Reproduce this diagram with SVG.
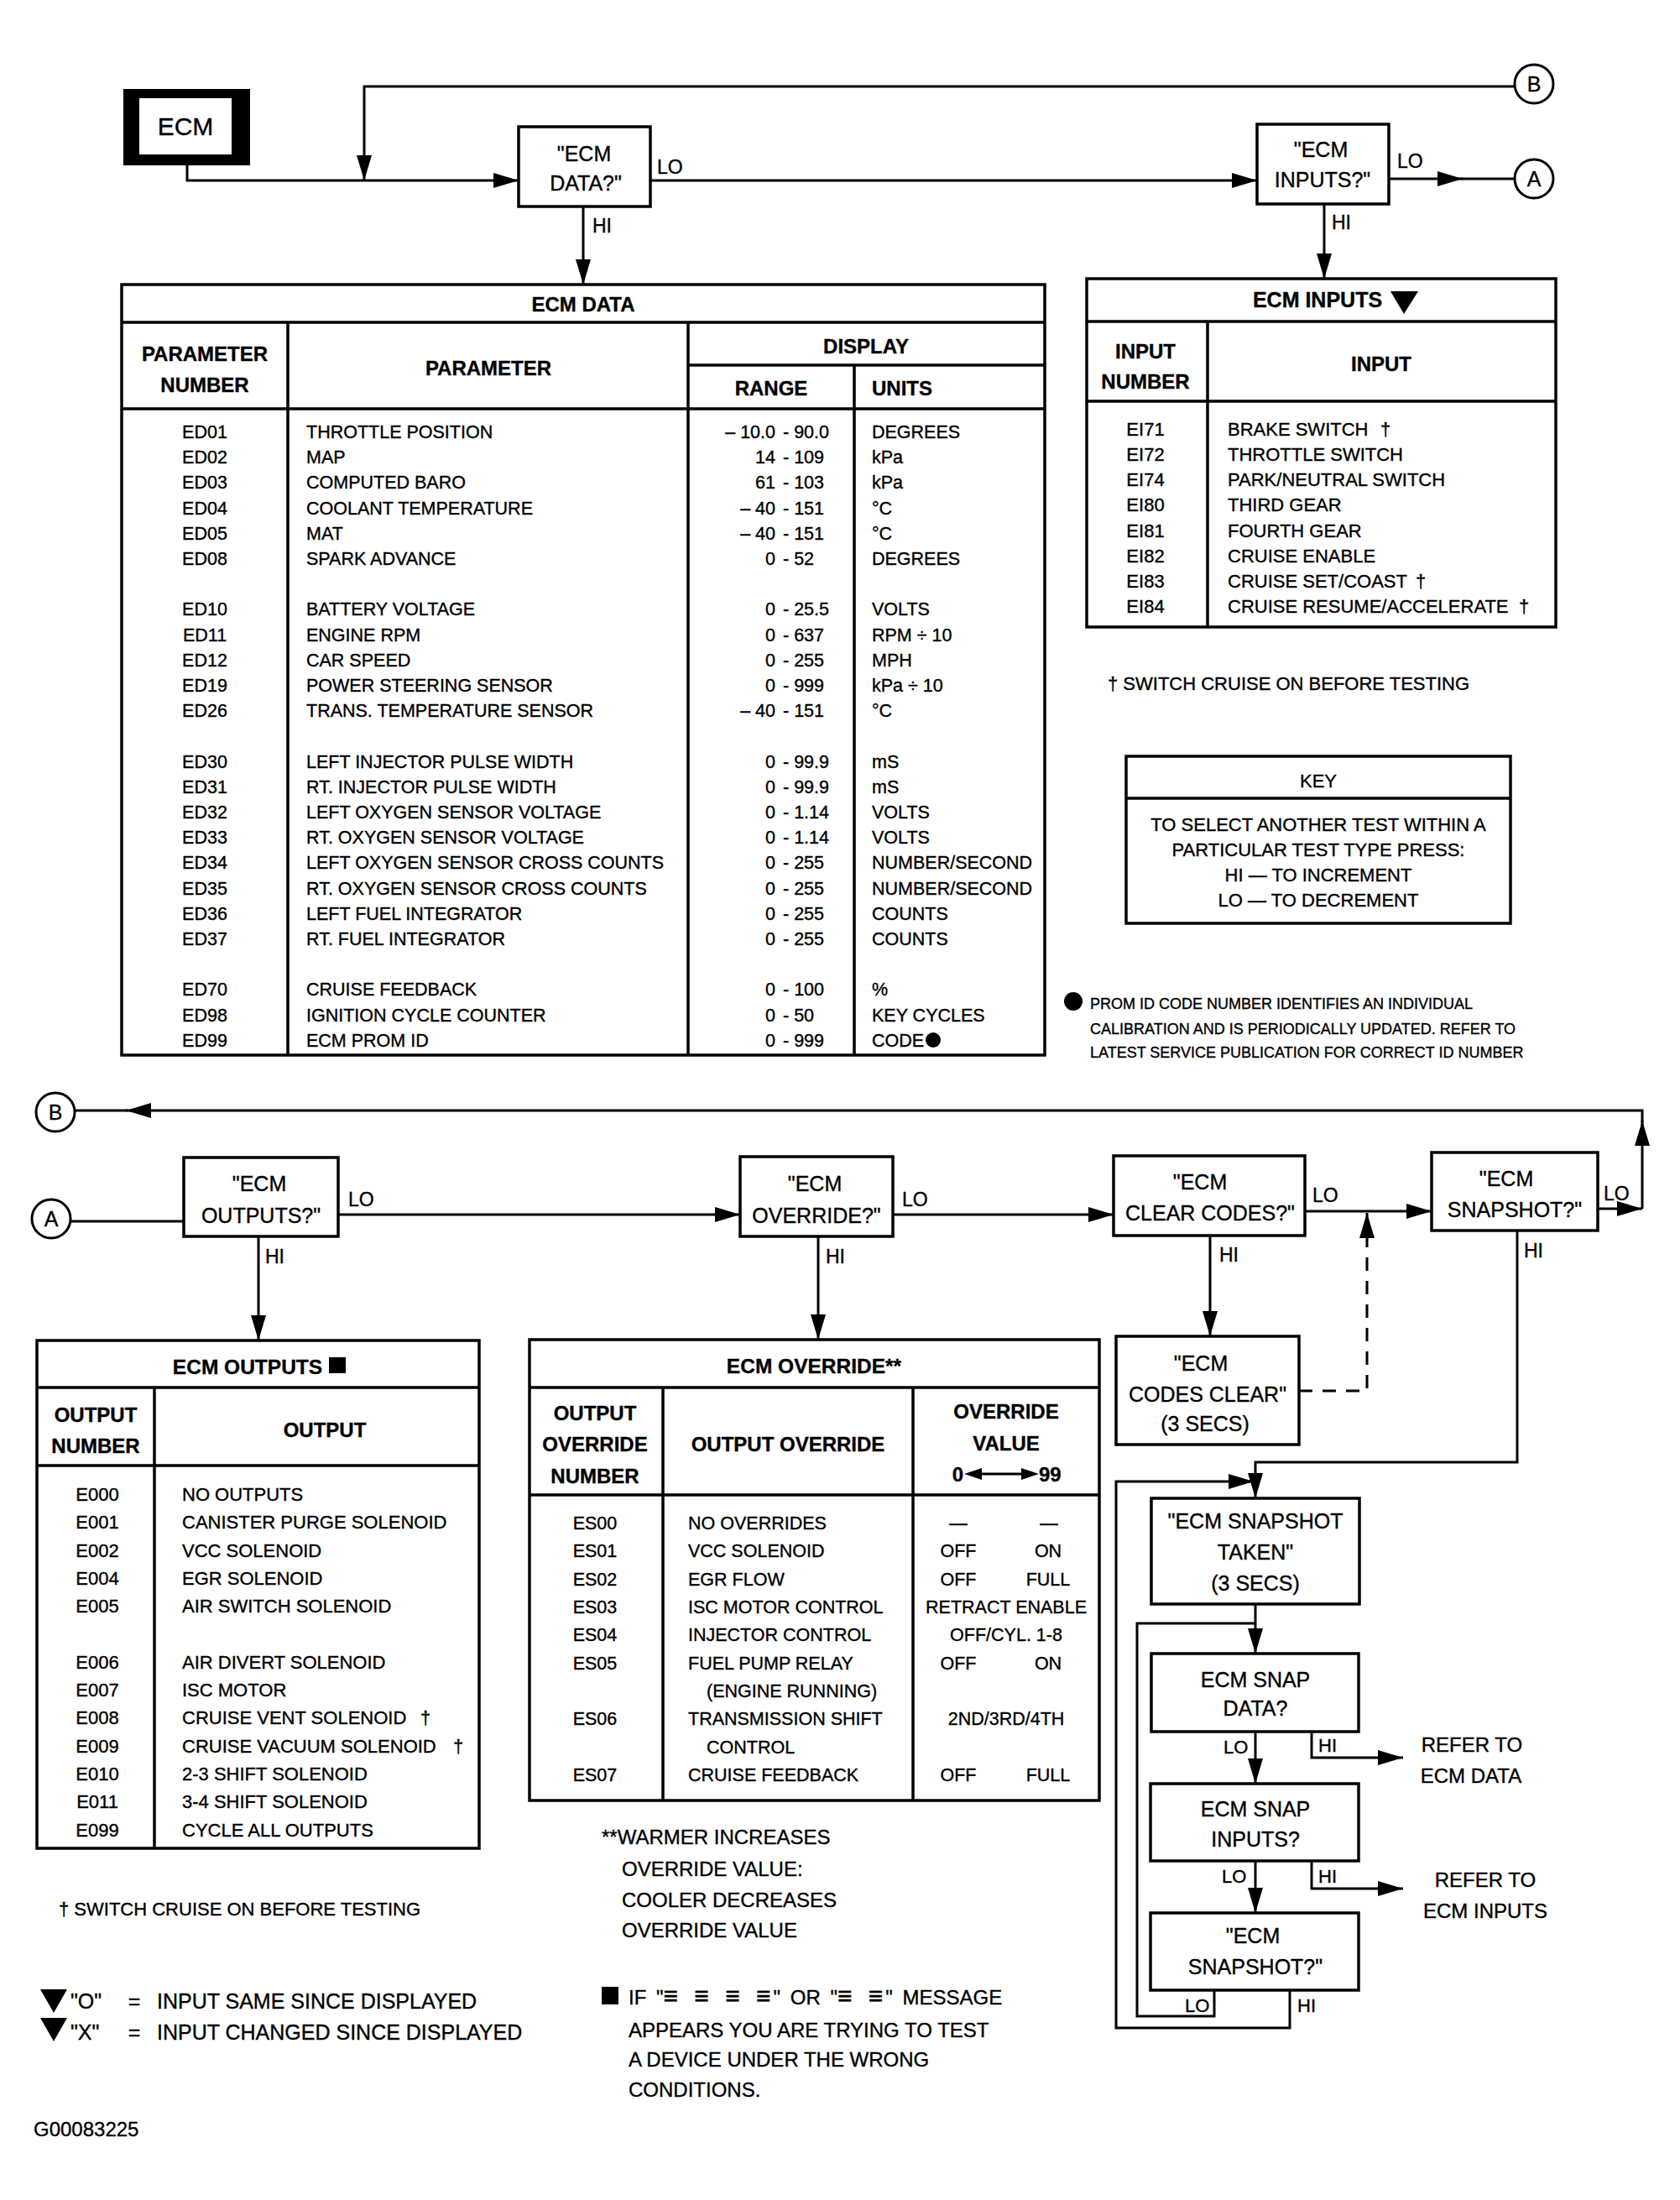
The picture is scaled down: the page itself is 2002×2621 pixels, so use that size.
<svg xmlns="http://www.w3.org/2000/svg" width="2002" height="2621" viewBox="0 0 2002 2621">
<style>
text{font-family:"Liberation Sans",Arial,Helvetica,sans-serif;fill:#000;stroke:#000;stroke-width:0.35}
.c{text-anchor:middle}
.e{text-anchor:end}
.bd{font-weight:bold}
.f25{font-size:25px}
.f24{font-size:24px}
.f22{font-size:22px}
.f21{font-size:21.5px}
.f18{font-size:18px}
.lab{font-size:23px}
.eq{font-size:30px;letter-spacing:3px}
.ln{fill:none;stroke:#000;stroke-width:3}
.dash{fill:none;stroke:#000;stroke-width:3;stroke-dasharray:16 12}
.bx{fill:#fff;stroke:#000;stroke-width:3.5}
.tb{fill:none;stroke:#000;stroke-width:3.5}
.cir{fill:#fff;stroke:#000;stroke-width:3}
</style>
<defs>
<marker id="ah" markerWidth="30" markerHeight="18" refX="30" refY="9" orient="auto" markerUnits="userSpaceOnUse" viewBox="0 0 30 18"><path d="M0,0 L30,9 L0,18 Z" fill="#000"/></marker>
</defs>
<rect width="2002" height="2621" fill="#fff"/>

<g id="connectors">
<path class="ln" d="M223,197 V215 H618" marker-end="url(#ah)"/>
<path class="ln" d="M1805,103 H434 V215" marker-end="url(#ah)"/>
<path class="ln" d="M775,215 H1498" marker-end="url(#ah)"/>
<path class="ln" d="M695,246 V339" marker-end="url(#ah)"/>
<path class="ln" d="M1655,213 H1743" marker-end="url(#ah)"/>
<path class="ln" d="M1741,213 H1805"/>
<path class="ln" d="M1578,243 V332" marker-end="url(#ah)"/>
<path class="ln" d="M1904,1440 H1957" marker-end="url(#ah)"/>
<path class="ln" d="M1957,1440 V1335" marker-end="url(#ah)"/>
<path class="ln" d="M1957,1337 V1323 H150" marker-end="url(#ah)"/>
<path class="ln" d="M152,1323 H89"/>
<path class="ln" d="M85,1455 H219"/>
<path class="ln" d="M403,1447 H882" marker-end="url(#ah)"/>
<path class="ln" d="M308,1473 V1597" marker-end="url(#ah)"/>
<path class="ln" d="M1064,1447 H1327" marker-end="url(#ah)"/>
<path class="ln" d="M975,1473 V1596" marker-end="url(#ah)"/>
<path class="ln" d="M1555,1443 H1706" marker-end="url(#ah)"/>
<path class="ln" d="M1442,1472 V1592" marker-end="url(#ah)"/>
<path class="dash" d="M1548,1657 H1629 V1445" marker-end="url(#ah)"/>
<path class="ln" d="M1808,1466 V1742 H1496 V1785" marker-end="url(#ah)"/>
<path class="ln" d="M1537,2371 V2416 H1330 V1765 H1494" marker-end="url(#ah)"/>
<path class="ln" d="M1496,1911 V1970" marker-end="url(#ah)"/>
<path class="ln" d="M1447,2371 V2402 H1355 V1934 H1496"/>
<path class="ln" d="M1496,2063 V2125" marker-end="url(#ah)"/>
<path class="ln" d="M1563,2063 V2094 H1672" marker-end="url(#ah)"/>
<path class="ln" d="M1496,2217 V2279" marker-end="url(#ah)"/>
<path class="ln" d="M1563,2217 V2250 H1672" marker-end="url(#ah)"/>
<text class="lab" x="783" y="207">LO</text>
<text class="lab" x="706" y="277">HI</text>
<text class="lab" x="1665" y="200">LO</text>
<text class="lab" x="1587" y="273">HI</text>
<text class="lab" x="415" y="1437">LO</text>
<text class="lab" x="316" y="1505">HI</text>
<text class="lab" x="1075" y="1437">LO</text>
<text class="lab" x="984" y="1505">HI</text>
<text class="lab" x="1564" y="1432">LO</text>
<text class="lab" x="1453" y="1503">HI</text>
<text class="lab" x="1911" y="1430">LO</text>
<text class="lab" x="1816" y="1498">HI</text>
<text class="f22" x="1458" y="2089">LO</text>
<text class="f22" x="1571" y="2087">HI</text>
<text class="f22" x="1456" y="2243">LO</text>
<text class="f22" x="1571" y="2243">HI</text>
<text class="f22" x="1412" y="2397">LO</text>
<text class="f22" x="1546" y="2397">HI</text>
</g>

<g id="ecm">
<rect x="147" y="106" width="151" height="91" fill="#000"/>
<rect x="166" y="117" width="110" height="67" fill="#fff"/>
<text class="c" x="221" y="161" font-size="30">ECM</text>
</g>

<g id="connB-top">
<circle class="cir" cx="1828" cy="100" r="23"/>
<text class="c f25" x="1828" y="109">B</text>
</g>
<g id="connA-top">
<circle class="cir" cx="1828" cy="213" r="23"/>
<text class="c f25" x="1828" y="222">A</text>
</g>

<g id="q-ecm-data">
<rect class="bx" x="618" y="151" width="157" height="95"/>
<text class="c f25" x="696" y="192">"ECM</text>
<text class="c f25" x="698" y="227">DATA?"</text>
</g>

<g id="q-ecm-inputs">
<rect class="bx" x="1498" y="148" width="157" height="95"/>
<text class="c f25" x="1574" y="187">"ECM</text>
<text class="c f25" x="1576" y="223">INPUTS?"</text>
</g>

<g id="tbl-ecm-data">
<rect class="tb" x="145" y="339" width="1100" height="918"/>
<path class="tb" d="M145,384 H1245 M145,487 H1245 M343,384 V1257 M820,384 V1257 M1018,435 V1257 M820,435 H1245"/>
<text class="c bd f24" x="695" y="371">ECM DATA</text>
<text class="c bd f24" x="244" y="430">PARAMETER</text>
<text class="c bd f24" x="244" y="467">NUMBER</text>
<text class="c bd f24" x="582" y="447">PARAMETER</text>
<text class="c bd f24" x="1032" y="421">DISPLAY</text>
<text class="c bd f24" x="919" y="471">RANGE</text>
<text class="bd f24" x="1039" y="471">UNITS</text>
<g class="f21">
<text class="c" x="244" y="522">ED01</text><text x="365" y="522">THROTTLE POSITION</text><text class="e" x="924" y="522">– 10.0</text><text x="933" y="522">- 90.0</text><text x="1039" y="522">DEGREES</text>
<text class="c" x="244" y="552">ED02</text><text x="365" y="552">MAP</text><text class="e" x="924" y="552">14</text><text x="933" y="552">- 109</text><text x="1039" y="552">kPa</text>
<text class="c" x="244" y="582">ED03</text><text x="365" y="582">COMPUTED BARO</text><text class="e" x="924" y="582">61</text><text x="933" y="582">- 103</text><text x="1039" y="582">kPa</text>
<text class="c" x="244" y="613">ED04</text><text x="365" y="613">COOLANT TEMPERATURE</text><text class="e" x="924" y="613">– 40</text><text x="933" y="613">- 151</text><text x="1039" y="613">°C</text>
<text class="c" x="244" y="643">ED05</text><text x="365" y="643">MAT</text><text class="e" x="924" y="643">– 40</text><text x="933" y="643">- 151</text><text x="1039" y="643">°C</text>
<text class="c" x="244" y="673">ED08</text><text x="365" y="673">SPARK ADVANCE</text><text class="e" x="924" y="673">0</text><text x="933" y="673">- 52</text><text x="1039" y="673">DEGREES</text>
<text class="c" x="244" y="733">ED10</text><text x="365" y="733">BATTERY VOLTAGE</text><text class="e" x="924" y="733">0</text><text x="933" y="733">- 25.5</text><text x="1039" y="733">VOLTS</text>
<text class="c" x="244" y="764">ED11</text><text x="365" y="764">ENGINE RPM</text><text class="e" x="924" y="764">0</text><text x="933" y="764">- 637</text><text x="1039" y="764">RPM ÷ 10</text>
<text class="c" x="244" y="794">ED12</text><text x="365" y="794">CAR SPEED</text><text class="e" x="924" y="794">0</text><text x="933" y="794">- 255</text><text x="1039" y="794">MPH</text>
<text class="c" x="244" y="824">ED19</text><text x="365" y="824">POWER STEERING SENSOR</text><text class="e" x="924" y="824">0</text><text x="933" y="824">- 999</text><text x="1039" y="824">kPa ÷ 10</text>
<text class="c" x="244" y="854">ED26</text><text x="365" y="854">TRANS. TEMPERATURE SENSOR</text><text class="e" x="924" y="854">– 40</text><text x="933" y="854">- 151</text><text x="1039" y="854">°C</text>
<text class="c" x="244" y="915">ED30</text><text x="365" y="915">LEFT INJECTOR PULSE WIDTH</text><text class="e" x="924" y="915">0</text><text x="933" y="915">- 99.9</text><text x="1039" y="915">mS</text>
<text class="c" x="244" y="945">ED31</text><text x="365" y="945">RT. INJECTOR PULSE WIDTH</text><text class="e" x="924" y="945">0</text><text x="933" y="945">- 99.9</text><text x="1039" y="945">mS</text>
<text class="c" x="244" y="975">ED32</text><text x="365" y="975">LEFT OXYGEN SENSOR VOLTAGE</text><text class="e" x="924" y="975">0</text><text x="933" y="975">- 1.14</text><text x="1039" y="975">VOLTS</text>
<text class="c" x="244" y="1005">ED33</text><text x="365" y="1005">RT. OXYGEN SENSOR VOLTAGE</text><text class="e" x="924" y="1005">0</text><text x="933" y="1005">- 1.14</text><text x="1039" y="1005">VOLTS</text>
<text class="c" x="244" y="1035">ED34</text><text x="365" y="1035">LEFT OXYGEN SENSOR CROSS COUNTS</text><text class="e" x="924" y="1035">0</text><text x="933" y="1035">- 255</text><text x="1039" y="1035">NUMBER/SECOND</text>
<text class="c" x="244" y="1066">ED35</text><text x="365" y="1066">RT. OXYGEN SENSOR CROSS COUNTS</text><text class="e" x="924" y="1066">0</text><text x="933" y="1066">- 255</text><text x="1039" y="1066">NUMBER/SECOND</text>
<text class="c" x="244" y="1096">ED36</text><text x="365" y="1096">LEFT FUEL INTEGRATOR</text><text class="e" x="924" y="1096">0</text><text x="933" y="1096">- 255</text><text x="1039" y="1096">COUNTS</text>
<text class="c" x="244" y="1126">ED37</text><text x="365" y="1126">RT. FUEL INTEGRATOR</text><text class="e" x="924" y="1126">0</text><text x="933" y="1126">- 255</text><text x="1039" y="1126">COUNTS</text>
<text class="c" x="244" y="1186">ED70</text><text x="365" y="1186">CRUISE FEEDBACK</text><text class="e" x="924" y="1186">0</text><text x="933" y="1186">- 100</text><text x="1039" y="1186">%</text>
<text class="c" x="244" y="1217">ED98</text><text x="365" y="1217">IGNITION CYCLE COUNTER</text><text class="e" x="924" y="1217">0</text><text x="933" y="1217">- 50</text><text x="1039" y="1217">KEY CYCLES</text>
<text class="c" x="244" y="1247">ED99</text><text x="365" y="1247">ECM PROM ID</text><text class="e" x="924" y="1247">0</text><text x="933" y="1247">- 999</text><text x="1039" y="1247">CODE</text>
</g>
<circle cx="1112" cy="1239" r="9" fill="#000"/>
</g>

<g id="tbl-ecm-inputs">
<rect class="tb" x="1295" y="332" width="559" height="415"/>
<path class="tb" d="M1295,383 H1854 M1295,478 H1854 M1439,383 V747"/>
<text class="c bd" font-size="25" x="1570" y="366">ECM INPUTS</text>
<polygon points="1657,347 1690,347 1673,374" fill="#000"/>
<text class="c bd f24" x="1365" y="427">INPUT</text>
<text class="c bd f24" x="1365" y="463">NUMBER</text>
<text class="c bd f24" x="1646" y="442">INPUT</text>
<g class="f22">
<text class="c" x="1365" y="519">EI71</text><text x="1463" y="519">BRAKE SWITCH</text><text class="c" x="1651" y="519">†</text>
<text class="c" x="1365" y="549">EI72</text><text x="1463" y="549">THROTTLE SWITCH</text>
<text class="c" x="1365" y="579">EI74</text><text x="1463" y="579">PARK/NEUTRAL SWITCH</text>
<text class="c" x="1365" y="609">EI80</text><text x="1463" y="609">THIRD GEAR</text>
<text class="c" x="1365" y="640">EI81</text><text x="1463" y="640">FOURTH GEAR</text>
<text class="c" x="1365" y="670">EI82</text><text x="1463" y="670">CRUISE ENABLE</text>
<text class="c" x="1365" y="700">EI83</text><text x="1463" y="700">CRUISE SET/COAST</text><text class="c" x="1693" y="700">†</text>
<text class="c" x="1365" y="730">EI84</text><text x="1463" y="730">CRUISE RESUME/ACCELERATE</text><text class="c" x="1816" y="730">†</text>
</g>
</g>

<g id="note-cruise-top">
<text class="f22" x="1320" y="822">† SWITCH CRUISE ON BEFORE TESTING</text>
</g>

<g id="key">
<rect class="tb" x="1342" y="901" width="458" height="199"/>
<path class="tb" d="M1342,951 H1800"/>
<text class="c f22" x="1571" y="938">KEY</text>
<text class="c f22" x="1571" y="990">TO SELECT ANOTHER TEST WITHIN A</text>
<text class="c f22" x="1571" y="1020">PARTICULAR TEST TYPE PRESS:</text>
<text class="c f22" x="1571" y="1050">HI — TO INCREMENT</text>
<text class="c f22" x="1571" y="1080">LO — TO DECREMENT</text>
</g>

<g id="note-prom">
<circle cx="1279" cy="1193" r="11" fill="#000"/>
<text class="f18" x="1299" y="1202">PROM ID CODE NUMBER IDENTIFIES AN INDIVIDUAL</text>
<text class="f18" x="1299" y="1232">CALIBRATION AND IS PERIODICALLY UPDATED. REFER TO</text>
<text class="f18" x="1299" y="1260">LATEST SERVICE PUBLICATION FOR CORRECT ID NUMBER</text>
</g>

<g id="connB-bottom">
<circle class="cir" cx="66" cy="1325" r="23"/>
<text class="c f25" x="66" y="1334">B</text>
</g>
<g id="connA-bottom">
<circle class="cir" cx="61" cy="1452" r="23"/>
<text class="c f25" x="61" y="1461">A</text>
</g>

<g id="q-ecm-outputs">
<rect class="bx" x="219" y="1379" width="184" height="94"/>
<text class="c f25" x="309" y="1419">"ECM</text>
<text class="c f25" x="311" y="1457">OUTPUTS?"</text>
</g>

<g id="q-ecm-override">
<rect class="bx" x="882" y="1378" width="182" height="95"/>
<text class="c f25" x="971" y="1419">"ECM</text>
<text class="c f25" x="973" y="1457">OVERRIDE?"</text>
</g>

<g id="q-ecm-clear-codes">
<rect class="bx" x="1327" y="1377" width="228" height="95"/>
<text class="c f25" x="1430" y="1417">"ECM</text>
<text class="c f25" x="1442" y="1454">CLEAR CODES?"</text>
</g>

<g id="q-ecm-snapshot">
<rect class="bx" x="1706" y="1373" width="198" height="93"/>
<text class="c f25" x="1795" y="1413">"ECM</text>
<text class="c f25" x="1805" y="1450">SNAPSHOT?"</text>
</g>

<g id="ecm-codes-clear">
<rect class="bx" x="1330" y="1592" width="218" height="129"/>
<text class="c f25" x="1431" y="1633">"ECM</text>
<text class="c f25" x="1439" y="1670">CODES CLEAR"</text>
<text class="c f25" x="1436" y="1705">(3 SECS)</text>
</g>

<g id="tbl-ecm-outputs">
<rect class="tb" x="44" y="1597" width="527" height="605"/>
<path class="tb" d="M44,1653 H571 M44,1746 H571 M184,1653 V2202"/>
<text class="c bd" font-size="24.5" x="295" y="1637">ECM OUTPUTS</text>
<rect x="392" y="1617" width="20" height="19" fill="#000"/>
<text class="c bd f24" x="114" y="1694">OUTPUT</text>
<text class="c bd f24" x="114" y="1731">NUMBER</text>
<text class="c bd f24" x="387" y="1712">OUTPUT</text>
<g class="f22">
<text class="c" x="116" y="1788">E000</text><text x="217" y="1788">NO OUTPUTS</text>
<text class="c" x="116" y="1821">E001</text><text x="217" y="1821">CANISTER PURGE SOLENOID</text>
<text class="c" x="116" y="1855">E002</text><text x="217" y="1855">VCC SOLENOID</text>
<text class="c" x="116" y="1888">E004</text><text x="217" y="1888">EGR SOLENOID</text>
<text class="c" x="116" y="1921">E005</text><text x="217" y="1921">AIR SWITCH SOLENOID</text>
<text class="c" x="116" y="1988">E006</text><text x="217" y="1988">AIR DIVERT SOLENOID</text>
<text class="c" x="116" y="2021">E007</text><text x="217" y="2021">ISC MOTOR</text>
<text class="c" x="116" y="2054">E008</text><text x="217" y="2054">CRUISE VENT SOLENOID</text><text class="c" x="507" y="2054">†</text>
<text class="c" x="116" y="2088">E009</text><text x="217" y="2088">CRUISE VACUUM SOLENOID</text><text class="c" x="546" y="2088">†</text>
<text class="c" x="116" y="2121">E010</text><text x="217" y="2121">2-3 SHIFT SOLENOID</text>
<text class="c" x="116" y="2154">E011</text><text x="217" y="2154">3-4 SHIFT SOLENOID</text>
<text class="c" x="116" y="2188">E099</text><text x="217" y="2188">CYCLE ALL OUTPUTS</text>
</g>
</g>

<g id="tbl-ecm-override">
<rect class="tb" x="631" y="1596" width="679" height="549"/>
<path class="tb" d="M631,1653 H1310 M631,1781 H1310 M790,1653 V2145 M1088,1653 V2145"/>
<text class="c bd" font-size="24.5" x="970" y="1636">ECM OVERRIDE**</text>
<text class="c bd f24" x="709" y="1692">OUTPUT</text>
<text class="c bd f24" x="709" y="1729">OVERRIDE</text>
<text class="c bd f24" x="709" y="1767">NUMBER</text>
<text class="c bd f24" x="939" y="1729">OUTPUT OVERRIDE</text>
<text class="c bd f24" x="1199" y="1690">OVERRIDE</text>
<text class="c bd f24" x="1199" y="1728">VALUE</text>
<text class="e bd f24" x="1148" y="1765">0</text>
<text class="bd f24" x="1238" y="1765">99</text>
<path d="M1165,1756 H1222" stroke="#000" stroke-width="3"/>
<polygon points="1149,1756 1170,1749 1170,1763" fill="#000"/>
<polygon points="1238,1756 1217,1749 1217,1763" fill="#000"/>
<g class="f21">
<text class="c" x="709" y="1822">ES00</text><text x="820" y="1822">NO OVERRIDES</text><text class="c" x="1142" y="1822">—</text><text class="c" x="1250" y="1822">—</text>
<text class="c" x="709" y="1855">ES01</text><text x="820" y="1855">VCC SOLENOID</text><text class="c" x="1142" y="1855">OFF</text><text class="c" x="1249" y="1855">ON</text>
<text class="c" x="709" y="1889">ES02</text><text x="820" y="1889">EGR FLOW</text><text class="c" x="1142" y="1889">OFF</text><text class="c" x="1249" y="1889">FULL</text>
<text class="c" x="709" y="1922">ES03</text><text x="820" y="1922">ISC MOTOR CONTROL</text><text class="c" x="1199" y="1922">RETRACT ENABLE</text>
<text class="c" x="709" y="1955">ES04</text><text x="820" y="1955">INJECTOR CONTROL</text><text class="c" x="1199" y="1955">OFF/CYL. 1-8</text>
<text class="c" x="709" y="1989">ES05</text><text x="820" y="1989">FUEL PUMP RELAY</text><text class="c" x="1142" y="1989">OFF</text><text class="c" x="1249" y="1989">ON</text>
<text x="842" y="2022">(ENGINE RUNNING)</text>
<text class="c" x="709" y="2055">ES06</text><text x="820" y="2055">TRANSMISSION SHIFT</text><text class="c" x="1199" y="2055">2ND/3RD/4TH</text>
<text x="842" y="2089">CONTROL</text>
<text class="c" x="709" y="2122">ES07</text><text x="820" y="2122">CRUISE FEEDBACK</text><text class="c" x="1142" y="2122">OFF</text><text class="c" x="1249" y="2122">FULL</text>
</g>
</g>

<g id="ecm-snapshot-taken">
<rect class="bx" x="1372" y="1785" width="248" height="126"/>
<text class="c f25" x="1496" y="1821">"ECM SNAPSHOT</text>
<text class="c f25" x="1496" y="1858">TAKEN"</text>
<text class="c f25" x="1496" y="1895">(3 SECS)</text>
</g>

<g id="ecm-snap-data">
<rect class="bx" x="1372" y="1970" width="247" height="93"/>
<text class="c f25" x="1496" y="2010">ECM SNAP</text>
<text class="c f25" x="1496" y="2044">DATA?</text>
</g>

<g id="ecm-snap-inputs">
<rect class="bx" x="1371" y="2125" width="248" height="92"/>
<text class="c f25" x="1496" y="2164">ECM SNAP</text>
<text class="c f25" x="1496" y="2200">INPUTS?</text>
</g>

<g id="ecm-snapshot-q2">
<rect class="bx" x="1371" y="2279" width="248" height="92"/>
<text class="c f25" x="1493" y="2315">"ECM</text>
<text class="c f25" x="1496" y="2352">SNAPSHOT?"</text>
</g>

<g id="refer-data">
<text class="c f24" x="1754" y="2087">REFER TO</text>
<text class="c f24" x="1753" y="2124">ECM DATA</text>
</g>
<g id="refer-inputs">
<text class="c f24" x="1770" y="2248">REFER TO</text>
<text class="c f24" x="1770" y="2285">ECM INPUTS</text>
</g>

<g id="note-cruise-bottom">
<text class="f22" x="70" y="2282">† SWITCH CRUISE ON BEFORE TESTING</text>
</g>

<g id="note-inputs-legend">
<polygon points="48,2370 80,2370 64,2398" fill="#000"/>
<text class="f25" x="84" y="2393">"O"</text>
<text class="c f25" x="160" y="2393">=</text>
<text class="f25" x="187" y="2393">INPUT SAME SINCE DISPLAYED</text>
<polygon points="48,2404 80,2404 64,2432" fill="#000"/>
<text class="f25" x="84" y="2430">"X"</text>
<text class="c f25" x="160" y="2430">=</text>
<text class="f25" x="187" y="2430">INPUT CHANGED SINCE DISPLAYED</text>
</g>

<g id="note-override">
<text class="f24" x="717" y="2197">**WARMER INCREASES</text>
<text class="f24" x="741" y="2235">OVERRIDE VALUE:</text>
<text class="f24" x="741" y="2272">COOLER DECREASES</text>
<text class="f24" x="741" y="2308">OVERRIDE VALUE</text>
</g>

<g id="note-outputs">
<rect x="717" y="2367" width="20" height="21" fill="#000"/>
<text class="f24" x="749" y="2388" word-spacing="5">IF "<tspan class="eq">≡ ≡ ≡ ≡</tspan>" OR "<tspan class="eq">≡ ≡</tspan>" MESSAGE</text>
<text class="f24" x="749" y="2427">APPEARS YOU ARE TRYING TO TEST</text>
<text class="f24" x="749" y="2462">A DEVICE UNDER THE WRONG</text>
<text class="f24" x="749" y="2498">CONDITIONS.</text>
</g>

<text class="f24" x="40" y="2545">G00083225</text>
</svg>
